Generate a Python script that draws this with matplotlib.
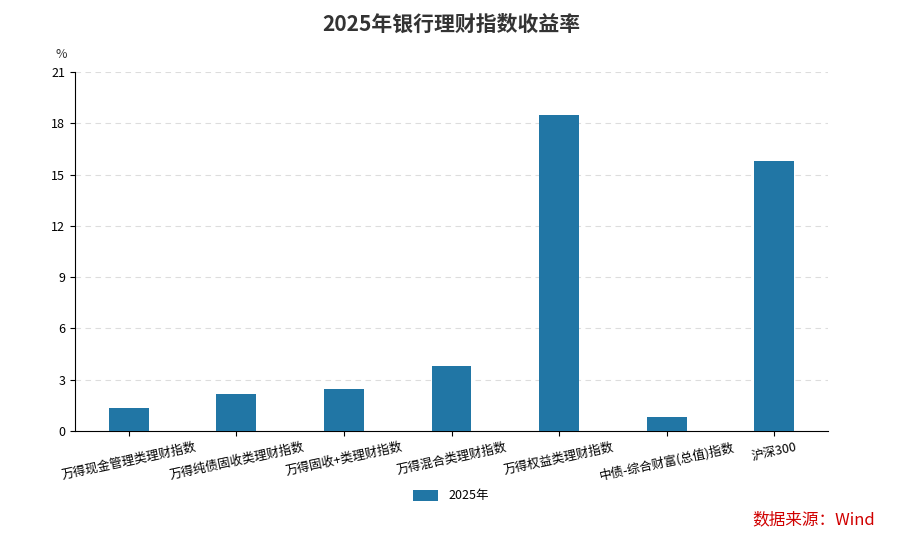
import matplotlib.pyplot as plt

plt.rcParams['font.family'] = ['Noto Sans CJK SC', 'DejaVu Sans']

categories = ['万得现金管理类理财指数', '万得纯债固收类理财指数', '万得固收+类理财指数',
              '万得混合类理财指数', '万得权益类理财指数', '中债-综合财富(总值)指数', '沪深300']
values = [1.35, 2.16, 2.46, 3.8, 18.5, 0.82, 15.79]
yticks = [0, 3, 6, 9, 12, 15, 18, 21]

fig = plt.figure(figsize=(9.02, 5.4), dpi=100)
ax = fig.add_axes([75 / 902, 1 - 431 / 540, 753 / 902, 359 / 540])
x = range(len(categories))
ax.bar(x, values, width=0.37, color='#2176a5', label='2025年', zorder=3)
ax.set_xlim(-0.5, len(categories) - 0.5)
ax.set_ylim(0, 21)
ax.set_yticks(yticks)
ax.set_xticks(list(x))
ax.set_xticklabels(categories, rotation=12, ha='center', fontsize=9)
ax.tick_params(axis='y', labelsize=9)
ax.grid(axis='y', linestyle=(0, (5, 4)), color='#dddddd', zorder=0)
for s in ['top', 'right']:
    ax.spines[s].set_visible(False)
ax.text(-0.01, 1.03, '%', transform=ax.transAxes, fontsize=9, ha='right', va='bottom', color='#333333')
fig.text(0.5, 0.955, '2025年银行理财指数收益率', ha='center', va='center', fontsize=15,
         fontweight='bold', color='#333333')
fig.legend(loc='center', bbox_to_anchor=(0.5, 1 - 496 / 540), frameon=False, fontsize=9,
           handlelength=2, handleheight=1)
fig.text(0.97, 1 - 520 / 540, '数据来源：Wind', ha='right', va='center', fontsize=12, color='#d00000')
fig.savefig('out.png', dpi=100)
